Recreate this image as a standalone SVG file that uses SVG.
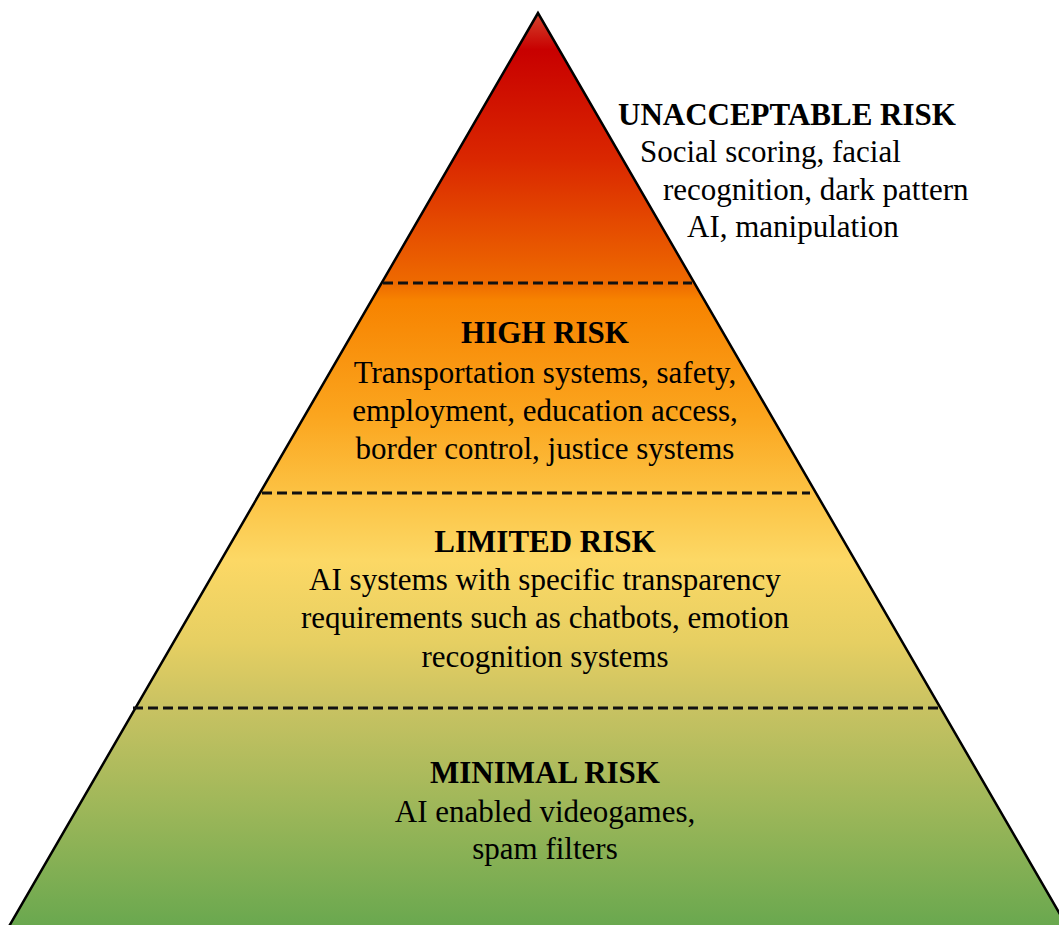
<svg xmlns="http://www.w3.org/2000/svg" width="1059" height="925" viewBox="0 0 1059 925">
  <style>
    .title { font-family: "Liberation Serif", "Times New Roman", serif; font-size: 31px; font-weight: bold; fill: #000; }
    .body { font-family: "Liberation Serif", "Times New Roman", serif; font-size: 31px; fill: #000; }
    .mid { text-anchor: middle; }
    .divider { stroke: #111; stroke-width: 2.8; stroke-dasharray: 10 5; fill: none; }
  </style>
  <defs>
    <!-- Red at the apex through orange and yellow to green at the base -->
    <linearGradient id="riskGradient" gradientUnits="userSpaceOnUse" x1="0" y1="13" x2="0" y2="925">
      <stop offset="0" stop-color="#d4452e"/>
      <stop offset="0.04" stop-color="#c80000"/>
      <stop offset="0.16" stop-color="#da2700"/>
      <stop offset="0.296" stop-color="#ee6a00"/>
      <stop offset="0.315" stop-color="#f78300"/>
      <stop offset="0.44" stop-color="#fba51e"/>
      <stop offset="0.526" stop-color="#fcc243"/>
      <stop offset="0.6" stop-color="#fcd865"/>
      <stop offset="0.69" stop-color="#e6cf62"/>
      <stop offset="0.762" stop-color="#c8c262"/>
      <stop offset="0.86" stop-color="#a2b85a"/>
      <stop offset="1" stop-color="#6aa84f"/>
    </linearGradient>
  </defs>

  <rect width="1059" height="925" fill="#fff"/>

  <!-- Pyramid body; its base runs past the bottom edge of the canvas -->
  <polygon id="pyramid" points="538,13 4,935 1072,935" fill="url(#riskGradient)" stroke="#000" stroke-width="2.5" stroke-linejoin="miter"/>

  <!-- Tier separators -->
  <g id="connectors">
    <line class="divider" x1="383" y1="283" x2="692" y2="283"/>
    <line class="divider" x1="262" y1="493" x2="810" y2="493"/>
    <line class="divider" x1="133" y1="708" x2="941" y2="708"/>
  </g>

  <g id="tier-unacceptable">
    <text class="title" x="618" y="125">UNACCEPTABLE RISK</text>
    <text class="body" x="640" y="162">Social scoring, facial</text>
    <text class="body" x="663" y="200">recognition, dark pattern</text>
    <text class="body" x="687" y="237">AI, manipulation</text>
  </g>

  <g id="tier-high">
    <text class="title mid" x="545" y="343">HIGH RISK</text>
    <text class="body mid" x="545" y="383">Transportation systems, safety,</text>
    <text class="body mid" x="545" y="421">employment, education access,</text>
    <text class="body mid" x="545" y="459">border control, justice systems</text>
  </g>

  <g id="tier-limited">
    <text class="title mid" x="545" y="552">LIMITED RISK</text>
    <text class="body mid" x="545" y="590">AI systems with specific transparency</text>
    <text class="body mid" x="545" y="628">requirements such as chatbots, emotion</text>
    <text class="body mid" x="545" y="667">recognition systems</text>
  </g>

  <g id="tier-minimal">
    <text class="title mid" x="545" y="783">MINIMAL RISK</text>
    <text class="body mid" x="545" y="822">AI enabled videogames,</text>
    <text class="body mid" x="545" y="859">spam filters</text>
  </g>
</svg>
